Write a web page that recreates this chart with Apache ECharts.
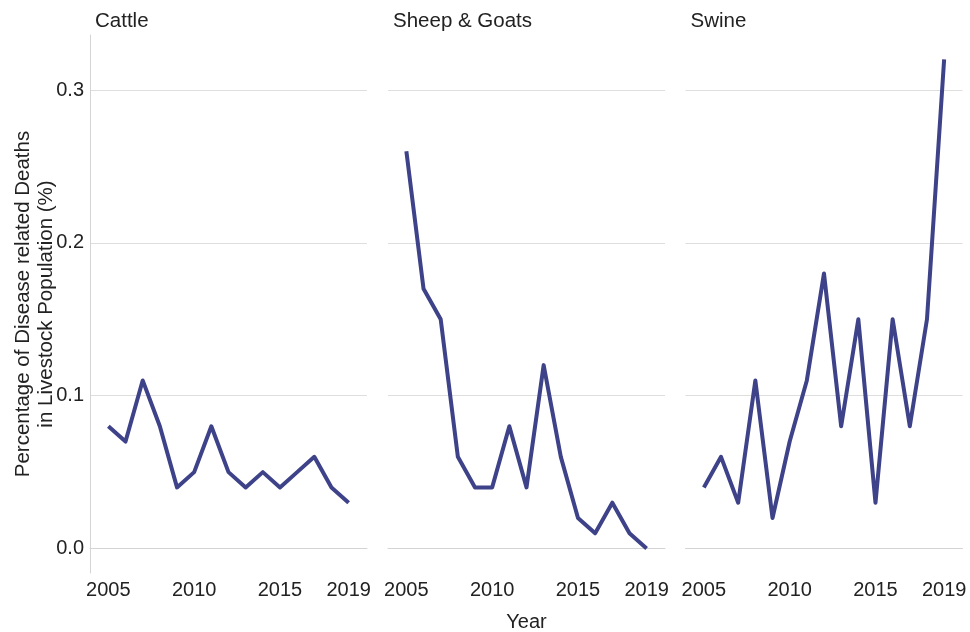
<!DOCTYPE html>
<html>
<head>
<meta charset="utf-8">
<script src="https://cdn.jsdelivr.net/npm/echarts@6/dist/echarts.min.js"></script>
<style>
html,body{margin:0;padding:0;background:#fff;}
#chart{width:970px;height:632px;}
</style>
</head>
<body>
<div id="chart"></div>
<script>
const years = [2005,2006,2007,2008,2009,2010,2011,2012,2013,2014,2015,2016,2017,2018,2019];
const panels = ['Cattle','Sheep & Goats','Swine'];
const cattle = [0.08,0.07,0.11,0.08,0.04,0.05,0.08,0.05,0.04,0.05,0.04,0.05,0.06,0.04,0.03];
const sheepGoats = [0.26,0.17,0.15,0.06,0.04,0.04,0.08,0.04,0.12,0.06,0.02,0.01,0.03,0.01,0.00];
const swine = [0.04,0.06,0.03,0.11,0.02,0.07,0.11,0.18,0.08,0.15,0.03,0.15,0.08,0.15,0.32];
const xTicks = [2005,2010,2015,2019];
const yTicks = [0,0.1,0.2,0.3];
const yTitle = 'Percentage of Disease related Deaths\nin Livestock Population (%)';
const xTitle = 'Year';

const seriesData = [cattle, sheepGoats, swine];
const FONT = 'Liberation Sans, Arial, sans-serif';
const TXT = '#222';
const lefts = [90, 388, 685.5];
const W = 277;

const grids = lefts.map(l => ({left:l, width:W, top:35, height:538, containLabel:false, outerBoundsMode:'none'}));
const xAxes = lefts.map((l,i) => ({
  type:'value', gridIndex:i, min:2003.93, max:2020.07,
  axisLine:{show:true, lineStyle:{color:'#d4d4d4', width:1}},
  axisTick:{show:false, customValues:xTicks},
  splitLine:{show:false},
  axisLabel:{customValues:xTicks, color:TXT, fontSize:20, fontFamily:FONT, margin:7, formatter:v=>String(v)},
  name: i===1 ? xTitle : '', nameLocation:'middle', nameGap:39,
  nameTextStyle:{color:TXT, fontSize:20, fontFamily:FONT}
}));
const yAxes = lefts.map((l,i) => ({
  type:'value', gridIndex:i, min:-0.016, max:0.336,
  axisLine:{show:i===0, lineStyle:{color:'#d4d4d4', width:1}},
  axisTick:{show:false, customValues:yTicks},
  splitLine:{show:true, lineStyle:{color:'#dedede', width:1}},
  axisLabel:{show:i===0, customValues:yTicks, color:TXT, fontSize:20, fontFamily:FONT, margin:6, formatter:v=>v.toFixed(1)},
  name: i===0 ? yTitle : '', nameLocation:'middle', nameGap:32, nameRotate:90, nameMoveOverlap:false,
  nameTextStyle:{color:TXT, fontSize:20.5, fontFamily:FONT, lineHeight:23}
}));
const series = seriesData.map((d,i) => ({
  type:'line', xAxisIndex:i, yAxisIndex:i,
  data: years.map((y,j)=>[y,d[j]]),
  showSymbol:false, symbol:'none',
  lineStyle:{color:'#3d4289', width:4, join:'round', cap:'butt'},
  silent:true, animation:false
}));
const titles = panels.map((p,i) => ({
  text:p, left:lefts[i], top:6,
  textStyle:{color:TXT, fontSize:20.5, fontWeight:'normal', fontFamily:FONT}
}));

const chart = echarts.init(document.getElementById('chart'), null, {renderer:'canvas'});
chart.setOption({
  animation:false,
  backgroundColor:'#fff',
  title:titles,
  grid:grids,
  xAxis:xAxes,
  yAxis:yAxes,
  series:series
});
</script>
</body>
</html>
